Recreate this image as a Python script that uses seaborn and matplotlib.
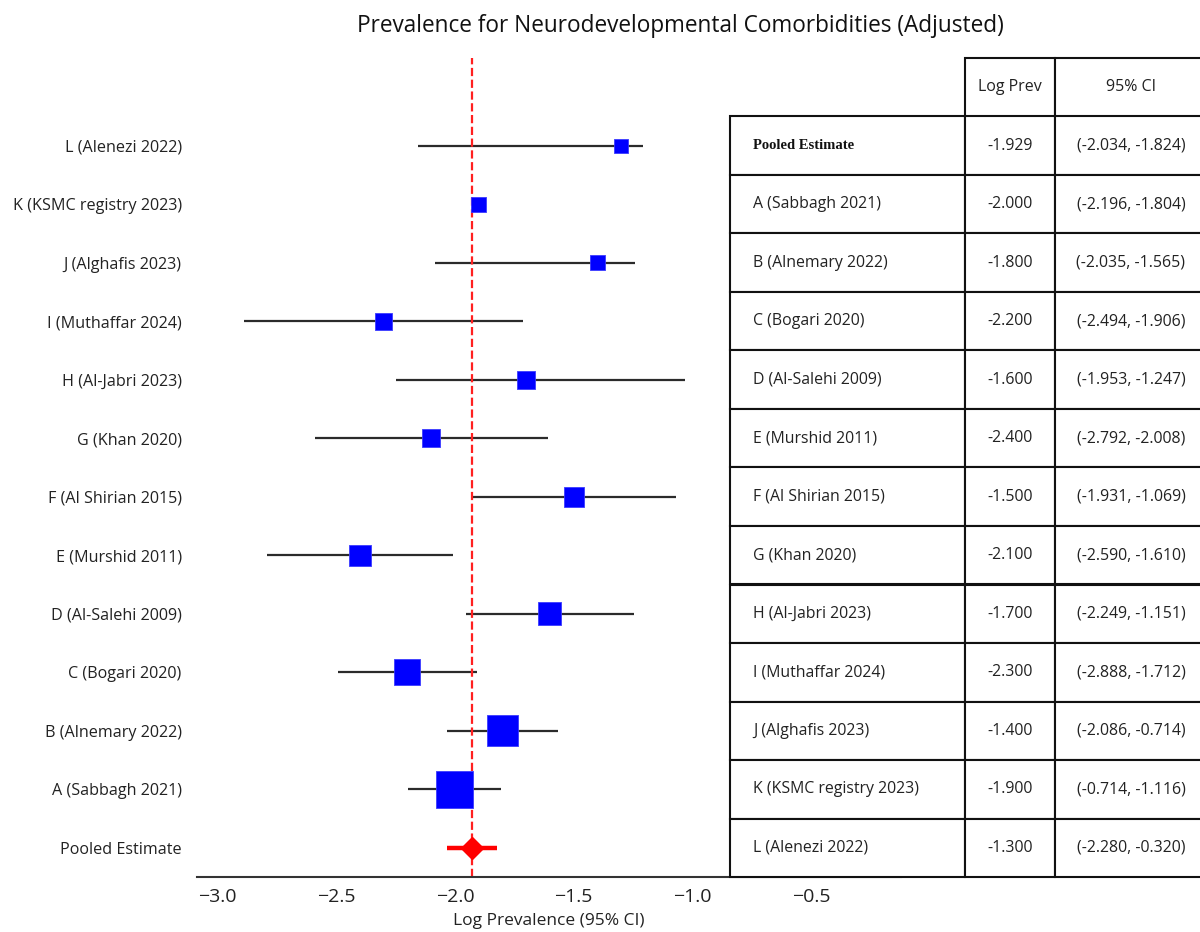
import numpy as np
import seaborn as sns
import matplotlib.pyplot as plt
from matplotlib.table import Table

# --- DATA ---
studies = [
    "A (Sabbagh 2021)", "B (Alnemary 2022)", "C (Bogari 2020)", "D (Al-Salehi 2009)",
    "E (Murshid 2011)", "F (Al Shirian 2015)", "G (Khan 2020)", "H (Al-Jabri 2023)",
    "I (Muthaffar 2024)", "J (Alghafis 2023)", "K (KSMC registry 2023)", "L (Alenezi 2022)",
]
log_prev = [-2.0, -1.8, -2.2, -1.6, -2.4, -1.5, -2.1, -1.7, -2.3, -1.4, -1.9, -1.3]
ci_lower = [-2.196, -2.035, -2.494, -1.953, -2.792, -1.931, -2.590, -2.249, -2.888, -2.086, np.nan, -2.156]
ci_upper = [-1.804, -1.565, -1.906, -1.247, -2.008, -1.069, -1.610, -1.030, -1.712, -1.242, np.nan, -1.208]
weights = [22.8, 16.0, 11.3, 8.8, 7.6, 6.9, 5.6, 5.2, 5.0, 3.9, 3.7, 3.3]  # relative box weight (%)

pooled_label = "Pooled Estimate"
pooled_est = -1.929
pooled_ci = (-2.034, -1.824)

# table shown on the right (as printed in the reference)
table_heads = ["", "Log Prev", "95% CI"]
table_labels = [pooled_label] + studies
table_est = ["-1.929", "-2.000", "-1.800", "-2.200", "-1.600", "-2.400", "-1.500",
             "-2.100", "-1.700", "-2.300", "-1.400", "-1.900", "-1.300"]
table_ci = ["(-2.034, -1.824)", "(-2.196, -1.804)", "(-2.035, -1.565)", "(-2.494, -1.906)",
            "(-1.953, -1.247)", "(-2.792, -2.008)", "(-1.931, -1.069)", "(-2.590, -1.610)",
            "(-2.249, -1.151)", "(-2.888, -1.712)", "(-2.086, -0.714)", "(-0.714, -1.116)",
            "(-2.280, -0.320)"]
x_ticks = [-3.0, -2.5, -2.0, -1.5, -1.0, -0.5]

# --- STYLE ---
sns.set_style("white")
plt.rcParams['font.family'] = ['Open Sans', 'DejaVu Sans']
plt.rcParams['axes.unicode_minus'] = True

W, H = 1200, 932
fig = plt.figure(figsize=(W / 100, H / 100), dpi=100)
ax = fig.add_axes([197 / W, 55 / H, (901 - 197) / W, (877 - 58) / H])

pos = np.arange(1, len(studies) + 1)
lo = np.array(ci_lower)
hi = np.array(ci_upper)
ok = ~np.isnan(lo)

# CI whiskers
ax.hlines(pos[ok], lo[ok], hi[ok], color='#2b2b2b', linewidth=1.6, zorder=1)

# study boxes, area proportional to weight
k = 31.1
sns.scatterplot(x=log_prev, y=pos, size=weights,
                sizes=(min(weights) * k, max(weights) * k),
                size_norm=(min(weights), max(weights)),
                marker='s', color='#0000ff', edgecolor='#3b3bff', linewidth=0.6,
                legend=False, ax=ax, zorder=3)

# pooled estimate
ax.axvline(pooled_est, color='#ff2020', linestyle='--', linewidth=1.6, zorder=2)
ax.errorbar(pooled_est, 0,
            xerr=[[pooled_est - pooled_ci[0]], [pooled_ci[1] - pooled_est]],
            fmt='D', color='#ff0000', markersize=11, elinewidth=3.2, capsize=0, zorder=4)

ax.set_yticks(np.arange(0, len(studies) + 1))
ax.set_yticklabels([pooled_label] + studies)
ax.set_xticks(x_ticks)
ax.set_xlim(-3.086, -0.122)
ax.set_ylim(-0.5, len(studies) + 1.5)
ax.tick_params(axis='y', length=0, pad=11, labelsize=11.6, labelcolor='#222222')
ax.tick_params(axis='x', length=4, width=1.2, color='#333333', labelsize=14, pad=4,
               labelcolor='#222222')
ax.set_xlabel('Log Prevalence (95% CI)', fontsize=12.5, labelpad=5, color='#222222')
ax.set_ylabel('')
sns.despine(ax=ax, left=True, top=True, right=True)
ax.spines['bottom'].set_linewidth(1.5)
ax.spines['bottom'].set_color('#333333')

fig.text(680 / W, 1 - 26 / H, 'Prevalence for Neurodevelopmental Comorbidities (Adjusted)',
         ha='center', va='center', fontsize=16.3, color='#111111')

# --- TABLE ---
ax_t = fig.add_axes([730 / W, 55 / H, 477 / W, (877 - 58) / H])
ax_t.axis('off')
col_w = [235 / 477, 90 / 477, 152 / 477]
n_rows = len(table_labels) + 1
tab = Table(ax_t, bbox=[0, 0, 1, 1])
for c, head in enumerate(table_heads):
    cell = tab.add_cell(0, c, col_w[c], 1 / n_rows, text=head, loc='center')
    if c == 0:
        cell.visible_edges = ''
for r, row in enumerate(zip(table_labels, table_est, table_ci), start=1):
    for c, txt in enumerate(row):
        tab.add_cell(r, c, col_w[c], 1 / n_rows, text=txt,
                     loc='left' if c == 0 else 'center')
tab.auto_set_font_size(False)
tab.set_fontsize(11.4)
for (r, c), cell in tab.get_celld().items():
    cell.set_linewidth(1.5)
    cell.set_edgecolor('#111111')
    cell.get_text().set_color('#222222')
    if r == 0:
        cell.get_text().set_fontsize(11.5)
pooled_txt = tab[1, 0].get_text()
pooled_txt.set_fontfamily('Liberation Serif')
pooled_txt.set_fontweight('bold')
pooled_txt.set_fontsize(10.5)
pooled_txt.set_color('#111111')
pooled_txt.set_x(pooled_txt.get_position()[0] - 0.005)
ax_t.add_table(tab)

fig.savefig('out.png', dpi=100)
